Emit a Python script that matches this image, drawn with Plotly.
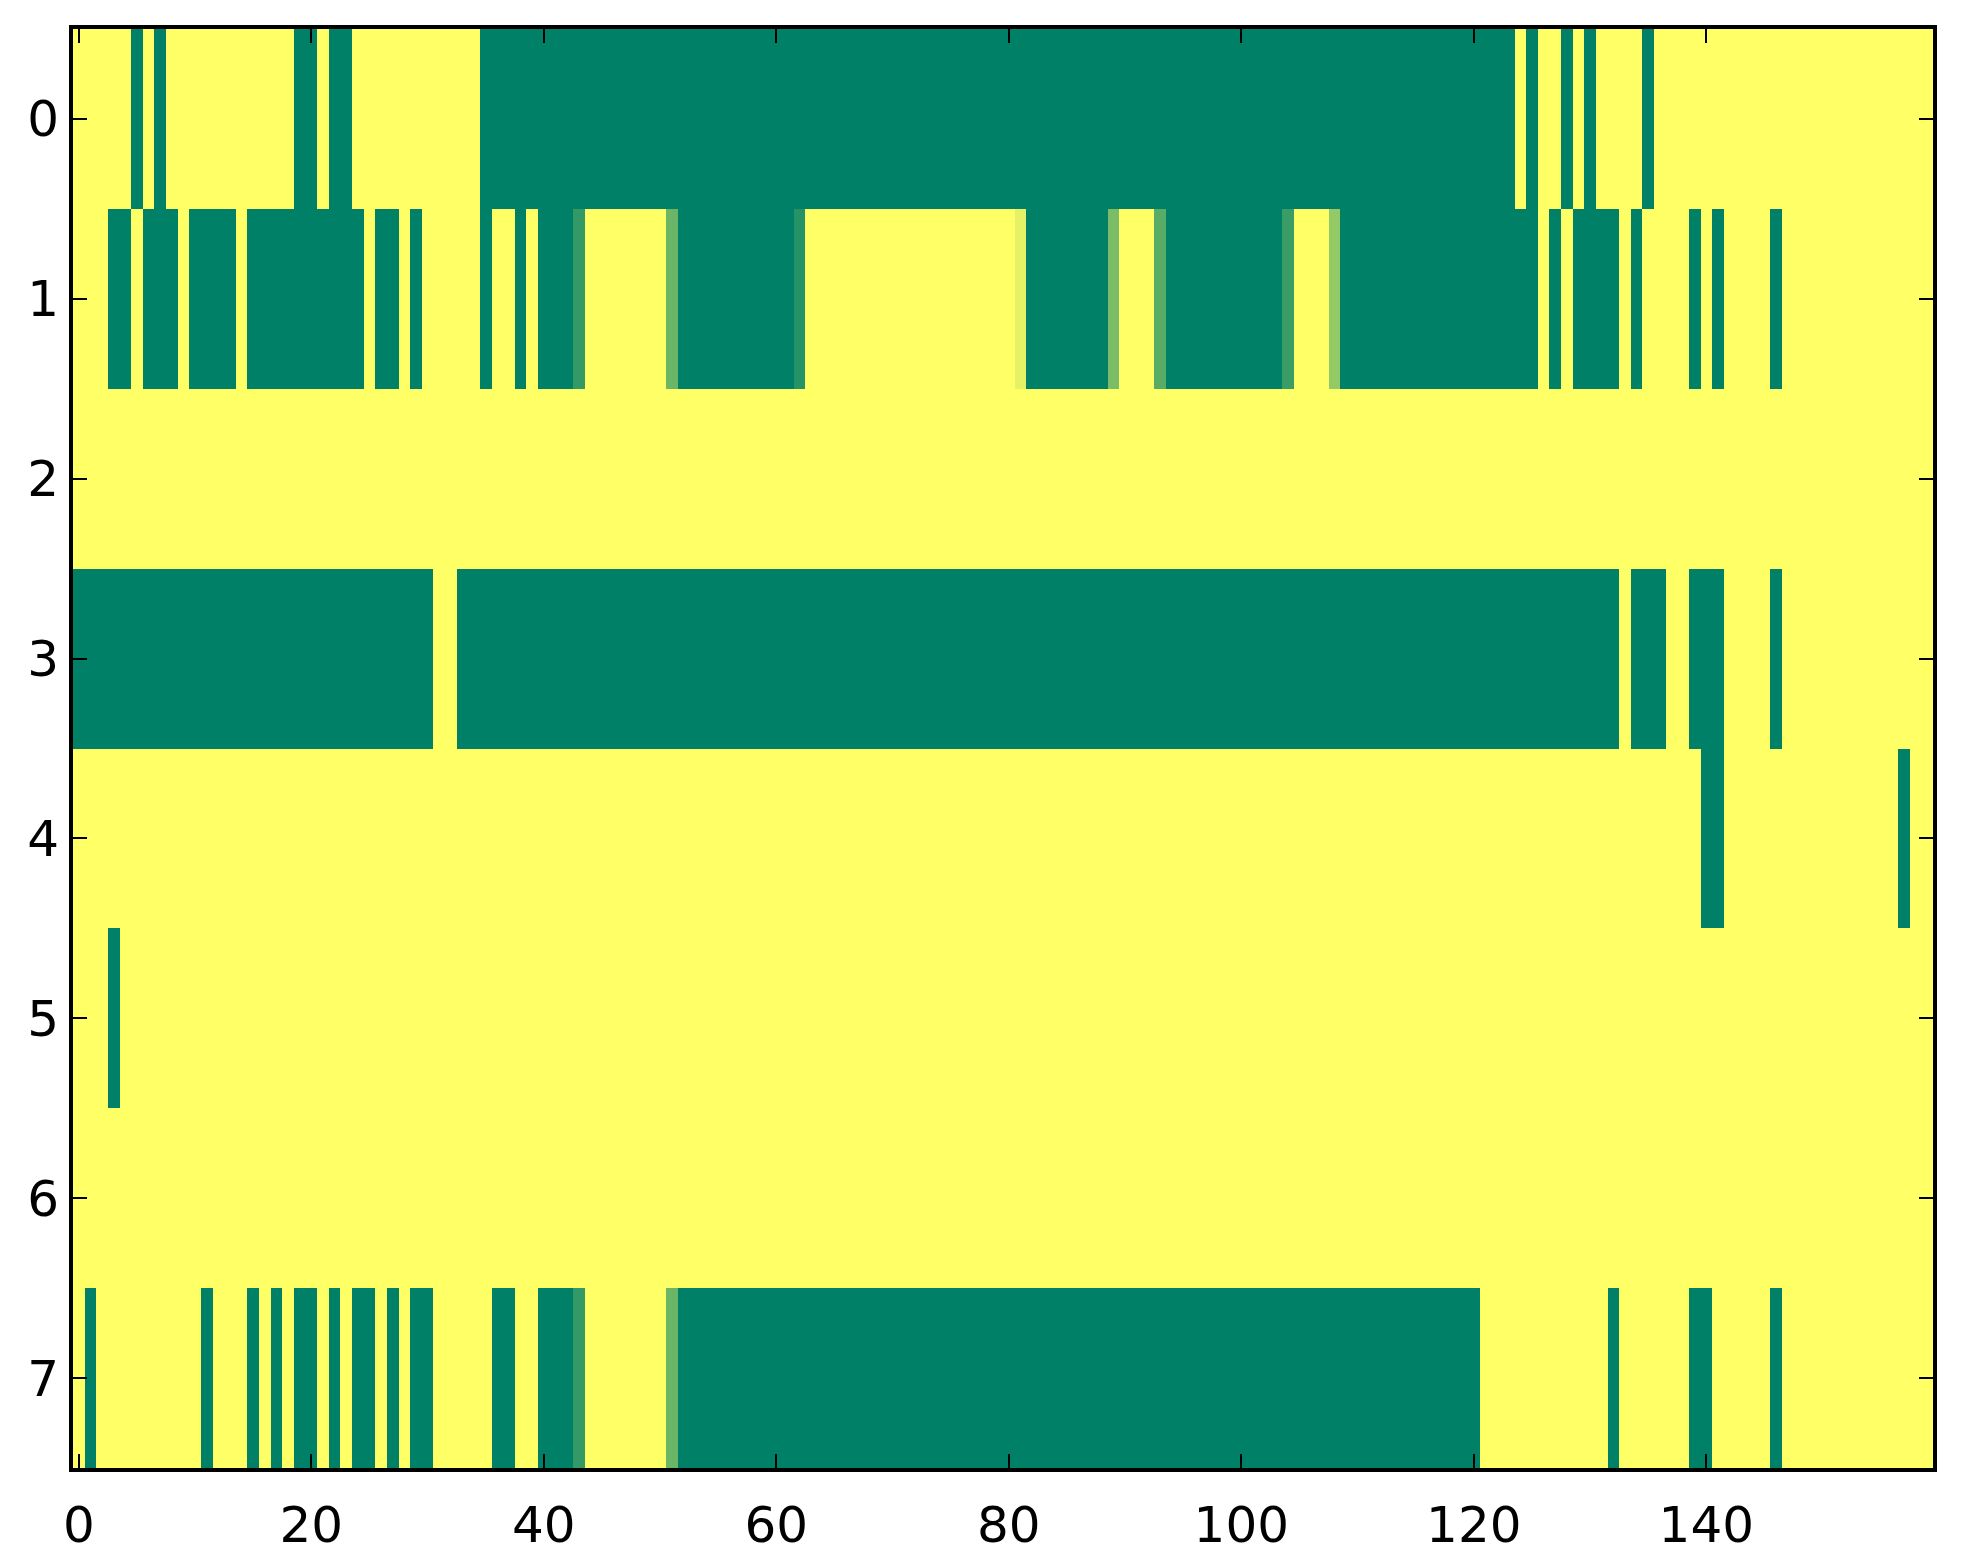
import plotly.graph_objects as go

# one list per image row, 160 cells each (0 = green, 1 = yellow)
row_0 = [
    1, 1, 1, 1, 1, 0, 1, 0, 1, 1, 1, 1, 1, 1, 1, 1, 1, 1, 1, 0,
    0, 1, 0, 0, 1, 1, 1, 1, 1, 1, 1, 1, 1, 1, 1, 0, 0, 0, 0, 0,
    0, 0, 0, 0, 0, 0, 0, 0, 0, 0, 0, 0, 0, 0, 0, 0, 0, 0, 0, 0,
    0, 0, 0, 0, 0, 0, 0, 0, 0, 0, 0, 0, 0, 0, 0, 0, 0, 0, 0, 0,
    0, 0, 0, 0, 0, 0, 0, 0, 0, 0, 0, 0, 0, 0, 0, 0, 0, 0, 0, 0,
    0, 0, 0, 0, 0, 0, 0, 0, 0, 0, 0, 0, 0, 0, 0, 0, 0, 0, 0, 0,
    0, 0, 0, 0, 1, 0, 1, 1, 0, 1, 0, 1, 1, 1, 1, 0, 1, 1, 1, 1,
    1, 1, 1, 1, 1, 1, 1, 1, 1, 1, 1, 1, 1, 1, 1, 1, 1, 1, 1, 1,
]
row_1 = [
    1, 1, 1, 0, 0, 1, 0, 0, 0, 1, 0, 0, 0, 0, 1, 0, 0, 0, 0, 0,
    0, 0, 0, 0, 0, 1, 0, 0, 1, 0, 1, 1, 1, 1, 1, 0, 1, 1, 0, 1,
    0, 0, 0, 0.2, 1, 1, 1, 1, 1, 1, 1, 0.42, 0, 0, 0, 0, 0, 0, 0, 0,
    0, 0, 0.15, 1, 1, 1, 1, 1, 1, 1, 1, 1, 1, 1, 1, 1, 1, 1, 1, 1,
    1, 0.9, 0, 0, 0, 0, 0, 0, 0, 0.48, 1, 1, 1, 0.35, 0, 0, 0, 0, 0, 0,
    0, 0, 0, 0, 0.23, 1, 1, 1, 0.58, 0, 0, 0, 0, 0, 0, 0, 0, 0, 0, 0,
    0, 0, 0, 0, 0, 0, 1, 0, 1, 0, 0, 0, 0, 1, 0, 1, 1, 1, 1, 0,
    1, 0, 1, 1, 1, 1, 0, 1, 1, 1, 1, 1, 1, 1, 1, 1, 1, 1, 1, 1,
]
row_2 = [
    1, 1, 1, 1, 1, 1, 1, 1, 1, 1, 1, 1, 1, 1, 1, 1, 1, 1, 1, 1,
    1, 1, 1, 1, 1, 1, 1, 1, 1, 1, 1, 1, 1, 1, 1, 1, 1, 1, 1, 1,
    1, 1, 1, 1, 1, 1, 1, 1, 1, 1, 1, 1, 1, 1, 1, 1, 1, 1, 1, 1,
    1, 1, 1, 1, 1, 1, 1, 1, 1, 1, 1, 1, 1, 1, 1, 1, 1, 1, 1, 1,
    1, 1, 1, 1, 1, 1, 1, 1, 1, 1, 1, 1, 1, 1, 1, 1, 1, 1, 1, 1,
    1, 1, 1, 1, 1, 1, 1, 1, 1, 1, 1, 1, 1, 1, 1, 1, 1, 1, 1, 1,
    1, 1, 1, 1, 1, 1, 1, 1, 1, 1, 1, 1, 1, 1, 1, 1, 1, 1, 1, 1,
    1, 1, 1, 1, 1, 1, 1, 1, 1, 1, 1, 1, 1, 1, 1, 1, 1, 1, 1, 1,
]
row_3 = [
    0, 0, 0, 0, 0, 0, 0, 0, 0, 0, 0, 0, 0, 0, 0, 0, 0, 0, 0, 0,
    0, 0, 0, 0, 0, 0, 0, 0, 0, 0, 0, 1, 1, 0, 0, 0, 0, 0, 0, 0,
    0, 0, 0, 0, 0, 0, 0, 0, 0, 0, 0, 0, 0, 0, 0, 0, 0, 0, 0, 0,
    0, 0, 0, 0, 0, 0, 0, 0, 0, 0, 0, 0, 0, 0, 0, 0, 0, 0, 0, 0,
    0, 0, 0, 0, 0, 0, 0, 0, 0, 0, 0, 0, 0, 0, 0, 0, 0, 0, 0, 0,
    0, 0, 0, 0, 0, 0, 0, 0, 0, 0, 0, 0, 0, 0, 0, 0, 0, 0, 0, 0,
    0, 0, 0, 0, 0, 0, 0, 0, 0, 0, 0, 0, 0, 1, 0, 0, 0, 1, 1, 0,
    0, 0, 1, 1, 1, 1, 0, 1, 1, 1, 1, 1, 1, 1, 1, 1, 1, 1, 1, 1,
]
row_4 = [
    1, 1, 1, 1, 1, 1, 1, 1, 1, 1, 1, 1, 1, 1, 1, 1, 1, 1, 1, 1,
    1, 1, 1, 1, 1, 1, 1, 1, 1, 1, 1, 1, 1, 1, 1, 1, 1, 1, 1, 1,
    1, 1, 1, 1, 1, 1, 1, 1, 1, 1, 1, 1, 1, 1, 1, 1, 1, 1, 1, 1,
    1, 1, 1, 1, 1, 1, 1, 1, 1, 1, 1, 1, 1, 1, 1, 1, 1, 1, 1, 1,
    1, 1, 1, 1, 1, 1, 1, 1, 1, 1, 1, 1, 1, 1, 1, 1, 1, 1, 1, 1,
    1, 1, 1, 1, 1, 1, 1, 1, 1, 1, 1, 1, 1, 1, 1, 1, 1, 1, 1, 1,
    1, 1, 1, 1, 1, 1, 1, 1, 1, 1, 1, 1, 1, 1, 1, 1, 1, 1, 1, 1,
    0, 0, 1, 1, 1, 1, 1, 1, 1, 1, 1, 1, 1, 1, 1, 1, 1, 0, 1, 1,
]
row_5 = [
    1, 1, 1, 0, 1, 1, 1, 1, 1, 1, 1, 1, 1, 1, 1, 1, 1, 1, 1, 1,
    1, 1, 1, 1, 1, 1, 1, 1, 1, 1, 1, 1, 1, 1, 1, 1, 1, 1, 1, 1,
    1, 1, 1, 1, 1, 1, 1, 1, 1, 1, 1, 1, 1, 1, 1, 1, 1, 1, 1, 1,
    1, 1, 1, 1, 1, 1, 1, 1, 1, 1, 1, 1, 1, 1, 1, 1, 1, 1, 1, 1,
    1, 1, 1, 1, 1, 1, 1, 1, 1, 1, 1, 1, 1, 1, 1, 1, 1, 1, 1, 1,
    1, 1, 1, 1, 1, 1, 1, 1, 1, 1, 1, 1, 1, 1, 1, 1, 1, 1, 1, 1,
    1, 1, 1, 1, 1, 1, 1, 1, 1, 1, 1, 1, 1, 1, 1, 1, 1, 1, 1, 1,
    1, 1, 1, 1, 1, 1, 1, 1, 1, 1, 1, 1, 1, 1, 1, 1, 1, 1, 1, 1,
]
row_6 = [
    1, 1, 1, 1, 1, 1, 1, 1, 1, 1, 1, 1, 1, 1, 1, 1, 1, 1, 1, 1,
    1, 1, 1, 1, 1, 1, 1, 1, 1, 1, 1, 1, 1, 1, 1, 1, 1, 1, 1, 1,
    1, 1, 1, 1, 1, 1, 1, 1, 1, 1, 1, 1, 1, 1, 1, 1, 1, 1, 1, 1,
    1, 1, 1, 1, 1, 1, 1, 1, 1, 1, 1, 1, 1, 1, 1, 1, 1, 1, 1, 1,
    1, 1, 1, 1, 1, 1, 1, 1, 1, 1, 1, 1, 1, 1, 1, 1, 1, 1, 1, 1,
    1, 1, 1, 1, 1, 1, 1, 1, 1, 1, 1, 1, 1, 1, 1, 1, 1, 1, 1, 1,
    1, 1, 1, 1, 1, 1, 1, 1, 1, 1, 1, 1, 1, 1, 1, 1, 1, 1, 1, 1,
    1, 1, 1, 1, 1, 1, 1, 1, 1, 1, 1, 1, 1, 1, 1, 1, 1, 1, 1, 1,
]
row_7 = [
    1, 0, 1, 1, 1, 1, 1, 1, 1, 1, 1, 0, 1, 1, 1, 0, 1, 0, 1, 0,
    0, 1, 0, 1, 0, 0, 1, 0, 1, 0, 0, 1, 1, 1, 1, 1, 0, 0, 1, 1,
    0, 0, 0, 0.2, 1, 1, 1, 1, 1, 1, 1, 0.42, 0, 0, 0, 0, 0, 0, 0, 0,
    0, 0, 0, 0, 0, 0, 0, 0, 0, 0, 0, 0, 0, 0, 0, 0, 0, 0, 0, 0,
    0, 0, 0, 0, 0, 0, 0, 0, 0, 0, 0, 0, 0, 0, 0, 0, 0, 0, 0, 0,
    0, 0, 0, 0, 0, 0, 0, 0, 0, 0, 0, 0, 0, 0, 0, 0, 0, 0, 0, 0,
    0, 1, 1, 1, 1, 1, 1, 1, 1, 1, 1, 1, 0, 1, 1, 1, 1, 1, 1, 0,
    0, 1, 1, 1, 1, 1, 0, 1, 1, 1, 1, 1, 1, 1, 1, 1, 1, 1, 1, 1,
]

rows = [row_0, row_1, row_2, row_3, row_4, row_5, row_6, row_7]
columns = list(range(len(row_0)))
row_index = list(range(len(rows)))

x_ticks = [0, 20, 40, 60, 80, 100, 120, 140]
y_ticks = [0, 1, 2, 3, 4, 5, 6, 7]

# matplotlib "summer": (0, 0.5, 0.4) -> (1, 1, 0.4)
summer = [[0.0, "rgb(0,128,102)"], [1.0, "rgb(255,255,102)"]]

fig = go.Figure(
    go.Heatmap(
        z=rows,
        x=columns,
        y=row_index,
        colorscale=summer,
        zmin=0,
        zmax=1,
        showscale=False,
        hoverongaps=False,
    )
)

axis_style = dict(
    showline=True,
    linecolor="black",
    linewidth=4,
    mirror="ticks",
    ticks="inside",
    ticklen=14,
    tickwidth=2,
    tickcolor="black",
    showgrid=False,
    zeroline=False,
    automargin=False,
    tickfont=dict(family="DejaVu Sans", size=50, color="black"),
)

fig.update_xaxes(
    range=[-0.5, len(row_0) - 0.5],
    tickvals=x_ticks,
    ticklabelstandoff=10,
    **axis_style,
)
fig.update_yaxes(
    range=[len(rows) - 0.5, -0.5],
    tickvals=y_ticks,
    ticklabelstandoff=0,
    **axis_style,
)

# the page body adds an 8px margin, so the figure is a little smaller
fig.update_layout(
    width=1947,
    height=1548,
    margin=dict(l=65, r=22, t=21, b=88),
    paper_bgcolor="white",
    plot_bgcolor="white",
    font=dict(family="DejaVu Sans", color="black"),
)

fig.write_html("out.html")
